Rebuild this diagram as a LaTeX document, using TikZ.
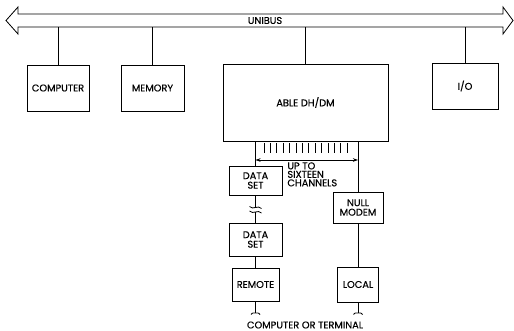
\documentclass[tikz,border=0pt]{standalone}
\usepackage{fontspec}
\setmainfont{Poppins}[FakeBold=0.4]
\usetikzlibrary{arrows.meta,positioning}

\begin{document}
\begin{tikzpicture}[
  x=1pt, y=-1pt,
  line width=0.8pt,
  box/.style={draw, align=center, inner sep=1pt, font=\fontsize{9.8}{9.5}\selectfont},
  chan/.style={{Stealth[length=5pt,width=3.5pt]}-{Stealth[length=5pt,width=3.5pt]}}
]
\useasboundingbox (0,0) rectangle (514,331);

% the bus
\draw (18,14) -- (503,14) -- (503,7) -- (513,20.5) -- (503,34) -- (503,27)
  -- (18,27) -- (18,34) -- (6,20.5) -- (18,7) -- cycle;
\node[font=\fontsize{9.8}{9.5}\selectfont] (unibus) at (265,20.5) {UNIBUS};
\coordinate (busbot) at (0,27);

% units on the bus
\node[box, minimum width=62pt, minimum height=46pt] (computer) at (58,88) {COMPUTER};
\node[box, minimum width=63pt, minimum height=46pt] (memory) at (152.5,88) {MEMORY};
\node[box, minimum width=165pt, minimum height=77pt] (able) at (305.5,102.5) {ABLE DH/DM};
\node[box, minimum width=66pt, minimum height=46pt] (io) at (465,86) {I/O};

% remote side
\node[box, minimum width=53pt, minimum height=29pt] (dataA) at (255.5,180.5) {DATA\\SET};
\node[box, minimum width=53pt, minimum height=33pt] (dataB) at (255.5,239.5) {DATA\\SET};
\node[box, minimum width=47pt, minimum height=33pt] (remote) at (255.5,284.5) {REMOTE};

% local side
\node[box, minimum width=50pt, minimum height=31pt] (nullmodem) at (358,207.5) {NULL\\MODEM};
\node[box, minimum width=41pt, minimum height=35pt] (local) at (358,284.5) {LOCAL};

\node[box, draw=none, align=left, anchor=north west, inner sep=0pt, font=\fontsize{9.8}{8.5}\selectfont] (upto) at (287,162)
  {UP TO\\SIXTEEN\\CHANNELS};
\node[box, draw=none] (term) at (305,325) {COMPUTER OR TERMINAL};

% bus drops
\draw (computer) -- (computer |- busbot);
\draw (memory) -- (memory |- busbot);
\draw (able) -- (able |- busbot);
\draw (io) -- (io |- busbot);

% channel lines
\foreach \i in {0,...,13}
  \draw (264+6.4*\i,143) -- (264+6.4*\i,153);
\draw (able.south -| dataA) -- (dataA);
\draw (able.south -| nullmodem) -- (nullmodem);
\draw[chan] (dataA.north |- 0,160) -- (nullmodem.north |- 0,160);

% broken line between the data sets
\coordinate (brkA) at (255.5,207.5);
\coordinate (brkB) at (255.5,212);
\draw (dataA) -- (brkA);
\draw (brkB) -- (dataB);
\foreach \b in {brkA,brkB}
  \draw ([xshift=-6pt,yshift=1pt]\b) .. controls ([xshift=-2pt,yshift=-3pt]\b)
        and ([xshift=2pt,yshift=3pt]\b) .. ([xshift=6pt,yshift=-1pt]\b);
\draw (dataB) -- (remote);
\draw (nullmodem) -- (local);

% cable ends
\coordinate (endR) at (255.5,313);
\coordinate (endL) at (358,313);
\draw (remote) -- (endR);
\draw (local) -- (endL);
\foreach \e in {endR,endL}
  \draw ([xshift=-4.5pt,yshift=-1.5pt]\e) .. controls ([xshift=-3.5pt]\e) .. (\e)
        .. controls ([xshift=3.5pt]\e) .. ([xshift=4.5pt,yshift=-1.5pt]\e);
\end{tikzpicture}
\end{document}
